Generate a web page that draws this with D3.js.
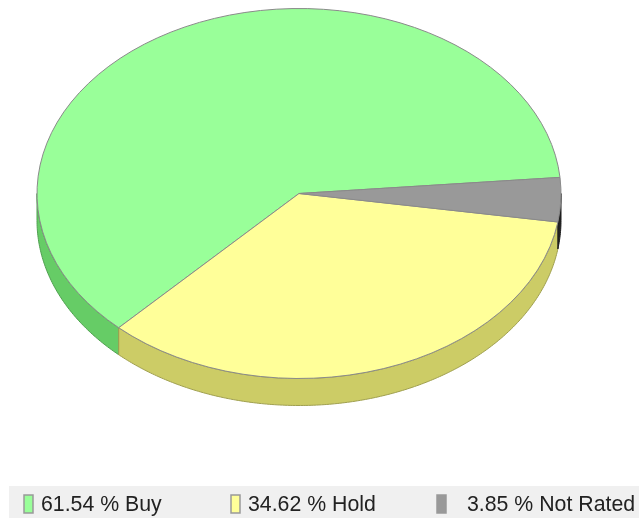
<!DOCTYPE html>
<html>
<head>
<meta charset="utf-8">
<script src="https://cdn.jsdelivr.net/npm/d3@7"></script>
<style>
html, body { margin: 0; padding: 0; background: #fff; }
svg { display: block; filter: blur(0.4px); }
</style>
</head>
<body>
<div id="chart"></div>
<script>
const labels = ['Buy', 'Hold', 'Not Rated'];
const percents = [61.54, 34.62, 3.85];
const topColors = ['#99ff99', '#ffff99', '#999999'];
const sideColors = ['#66cc66', '#cccc66', '#222222'];

const width = 639;
const height = 518;
const cx = 299;
const cy = 193.5;
const rx = 262;
const ry = 185;
const depth = 27;
const deg = Math.PI / 180;

const svg = d3.select('#chart')
    .append('svg')
    .attr('width', width)
    .attr('height', height);

const data = labels.map((label, i) => ({ label, value: percents[i], i }));

// slices run clockwise: Not Rated, Hold, Buy
const pie = d3.pie()
    .value(d => d.value)
    .sort((a, b) => b.i - a.i)
    .startAngle(85 * deg)
    .endAngle(445 * deg);
const slices = pie(data);

const arc = d3.arc().innerRadius(0).outerRadius(rx);

const sideLine = d3.line();
function sidePath(d) {
    // only the front half of the rim shows
    const from = Math.max(d.startAngle, 90 * deg);
    const to = Math.min(d.endAngle, 270 * deg);
    if (to <= from) return null;
    const angles = d3.range(from, to, 0.01).concat([to]);
    const pt = (a, off) => [cx + rx * Math.sin(a), cy - ry * Math.cos(a) + off];
    return sideLine(angles.map(a => pt(a, 0)).concat(angles.slice().reverse().map(a => pt(a, depth)))) + 'Z';
}

svg.append('g')
    .selectAll('path')
    .data(slices.filter(d => sidePath(d)))
    .join('path')
    .attr('d', sidePath)
    .attr('fill', d => sideColors[d.data.i])
    .attr('stroke', d => d3.color(sideColors[d.data.i]).darker(0.7))
    .attr('stroke-width', 1);

svg.append('g')
    .attr('transform', `translate(${cx},${cy}) scale(1,${ry / rx})`)
    .selectAll('path')
    .data(slices)
    .join('path')
    .attr('d', arc)
    .attr('fill', d => topColors[d.data.i])
    .attr('stroke', '#8a8a8a')
    .attr('stroke-width', 1)
    .attr('vector-effect', 'non-scaling-stroke');

// legend
const legendX = [24, 231, 437];
const textX = [41, 248, 467];

svg.append('rect')
    .attr('x', 9)
    .attr('y', 486)
    .attr('width', width - 9)
    .attr('height', 32)
    .attr('fill', '#f0f0f0');

const legend = svg.append('g')
    .selectAll('g')
    .data(data)
    .join('g');

legend.append('rect')
    .attr('x', d => legendX[d.i])
    .attr('y', 495)
    .attr('width', 9)
    .attr('height', 18)
    .attr('fill', d => topColors[d.i])
    .attr('stroke', '#999999')
    .attr('stroke-width', 1.5);

legend.append('text')
    .attr('x', d => textX[d.i])
    .attr('y', 511)
    .attr('font-family', '"Liberation Sans", Arial, sans-serif')
    .attr('font-size', 21.3)
    .attr('fill', '#222222')
    .text(d => `${d.value.toFixed(2)} % ${d.label}`);
</script>
</body>
</html>
